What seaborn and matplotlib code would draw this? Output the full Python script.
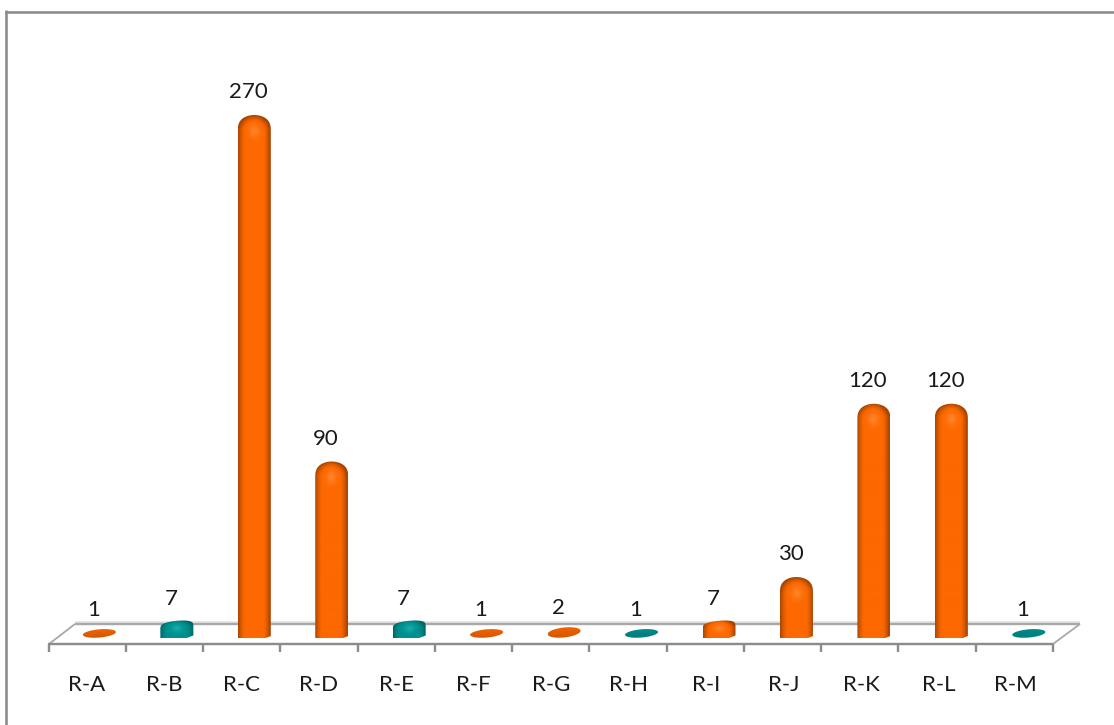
import numpy as np
import pandas as pd
import seaborn as sns
import matplotlib
matplotlib.use("Agg")
import matplotlib.pyplot as plt
from matplotlib.colors import to_rgb
from matplotlib.lines import Line2D
from matplotlib.patches import PathPatch
from matplotlib.path import Path
from matplotlib.transforms import Affine2D, ScaledTranslation

# Chart data
categories = ["R-A", "R-B", "R-C", "R-D", "R-E", "R-F", "R-G",
              "R-H", "R-I", "R-J", "R-K", "R-L", "R-M"]
values = [1, 7, 270, 90, 7, 1, 2, 1, 7, 30, 120, 120, 1]
groups = ["orange", "teal", "orange", "orange", "teal", "orange", "orange",
          "teal", "orange", "orange", "orange", "orange", "teal"]

# Cylinder shading: dark edge, body, highlight
shades = {
    "orange": ("#a84500", "#fd6800", "#ff8f3a"),
    "teal": ("#006868", "#008f8f", "#1fb8b0"),
}
base_colors = {"orange": "#ff6a00", "teal": "#008c8c"}

W, H = 1114, 725
PX_PER_CAT = 77.45
PX_PER_UNIT = 1.925
BAR_ZERO_X = 99.4
BAR_ZERO_Y = 638
AXES_BOTTOM = 644
GREY = "#8c8c8c"

sns.set_theme(style="white")
plt.rcParams["font.family"] = ["Lato", "DejaVu Sans"]

fig = plt.figure(figsize=(W / 100, H / 100), dpi=100, facecolor="white")
ax = fig.add_axes([0, (H - AXES_BOTTOM) / H, 1, AXES_BOTTOM / H], zorder=5)
ax.set_facecolor("none")

frame = pd.DataFrame({"category": categories, "value": values, "group": groups})
sns.barplot(data=frame, x="category", y="value", hue="group", dodge=False,
            palette=base_colors, width=33 / PX_PER_CAT, legend=False,
            saturation=1, ax=ax)

xlim = (-BAR_ZERO_X / PX_PER_CAT, (W - BAR_ZERO_X) / PX_PER_CAT)
ylim = (-(AXES_BOTTOM - BAR_ZERO_Y) / PX_PER_UNIT, BAR_ZERO_Y / PX_PER_UNIT)


def outline(v):
    """Silhouette of a bar in (-1..1 across, pixels above base); returns points and height."""
    t = np.linspace(0, np.pi, 60)
    c, s = np.cos(t), np.sin(t)
    if v <= 2:
        full = 3.25 + PX_PER_UNIT * v + 4
        tilt = full * 0.15
        ry = full / 2 - tilt * 0.35
        t = np.linspace(0, 2 * np.pi, 90)
        x = np.cos(t)
        y = full / 2 + ry * np.sin(t) + tilt * np.cos(t)
        return np.column_stack([x, np.clip(y, 0, None)]), full, "disc"
    full = 3.25 + PX_PER_UNIT * v
    if v < 15:
        full += 1.5
        mid = full - 9
        top = np.column_stack([c, mid + 8 * s ** 0.45 + 1.5 * c])
        bottom = [(-1, 0), (0.6, 0), (1, 2.5)]
        return np.vstack([bottom, top]), full, "stub"
    dome = 16
    top = np.column_stack([c, full - dome + dome * s ** 0.7])
    bottom = [(-1, 0), (0.7, 0), (1, 2)]
    return np.vstack([bottom, top]), full, "tall"


def shading(kind_colors, full, kind):
    """RGB array with a horizontal cylinder ramp and a spherical cap."""
    dark, body, light = (np.array(to_rgb(k)) for k in kind_colors)
    ny = max(int(full * 2), 8)
    u, h = np.meshgrid(np.linspace(-1, 1, 66), np.linspace(0, full, ny))
    if kind == "disc":
        mix = np.clip(0.5 + 0.4 * (h / full), 0, 1)[..., None]
        return dark * (1 - mix) + body * mix
    dome = 16 if kind == "tall" else 9
    above = np.clip((h - (full - dome)) / dome, 0, 1)
    r = np.sqrt(u ** 2 + above ** 2)
    r = np.clip(r + 0.05 * np.clip(u, 0, 1), 0, 1)
    edge = np.clip((r - 0.58) / 0.42, 0, 1)[..., None] ** 1.5
    img = body * (1 - edge) + dark * edge
    glow = np.exp(-((u / 0.32) ** 2 + ((h - (full - dome)) / (dome * 0.42)) ** 2))[..., None]
    return img * (1 - 0.7 * glow) + light * 0.7 * glow


for patch, cat_index in zip(
        sorted([p for p in ax.patches if p.get_height() > 0], key=lambda p: p.get_x()),
        range(len(categories))):
    value = patch.get_height()
    centre = patch.get_x() + patch.get_width() / 2
    half = patch.get_width() / 2
    pts, full, kind = outline(value)
    data_pts = np.column_stack([centre + pts[:, 0] * half, pts[:, 1] / PX_PER_UNIT])
    codes = [Path.MOVETO] + [Path.LINETO] * (len(data_pts) - 1)
    clip = PathPatch(Path(data_pts, codes), facecolor="none", edgecolor="none")
    ax.add_patch(clip)
    image = ax.imshow(shading(shades[groups[cat_index]], full, kind),
                      extent=[centre - half, centre + half, 0, full / PX_PER_UNIT],
                      origin="lower", aspect="auto", interpolation="bilinear", zorder=3)
    image.set_clip_path(clip)
    patch.set_alpha(0)
    ax.annotate(str(values[cat_index]), xy=(centre, value), xytext=(-6, 26),
                textcoords="offset pixels", ha="center", va="center",
                fontsize=16, color="#1a1a1a", zorder=4)

ax.set_xlim(*xlim)
ax.set_ylim(*ylim)
ax.set_xlabel("")
ax.set_ylabel("")
ax.set_yticks([])
ax.tick_params(axis="x", length=0, pad=22, labelsize=16, labelcolor="#1a1a1a")
shift = ScaledTranslation(-13 / 100, 0, fig.dpi_scale_trans)
for label in ax.get_xticklabels():
    label.set_transform(label.get_transform() + shift)
sns.despine(ax=ax, left=True, bottom=True, top=True, right=True)

# Pixel-based furniture: outer border, chart floor and tick marks
to_px = Affine2D().scale(1, -1).translate(0, H)


def rule(xs, ys, color=GREY, lw=2.4, zorder=1):
    fig.add_artist(Line2D(xs, ys, transform=to_px, color=color, lw=lw * 0.72,
                          solid_capstyle="butt", zorder=zorder))


rule([5, W], [11.5, 11.5], lw=2.6)
rule([6.2, 6.2], [10, H], lw=2.6)
rule([75, 1080], [622, 622], color="#e0e0e0", lw=1.5)
rule([75, 1080], [624, 624], color="#a8a8a8", lw=2.4)
rule([49, 75], [644, 624], color="#a8a8a8", lw=1.8)
rule([1053, 1080], [644, 624], color="#a8a8a8", lw=1.8)
rule([48, 1053], [644, 644], lw=2.4)
for tick_index in range(len(categories) + 1):
    tick_x = 48.6 + 77.25 * tick_index
    rule([tick_x, tick_x], [644, 651.5], lw=2.4)

fig.savefig("out.png", dpi=100, facecolor="white")
